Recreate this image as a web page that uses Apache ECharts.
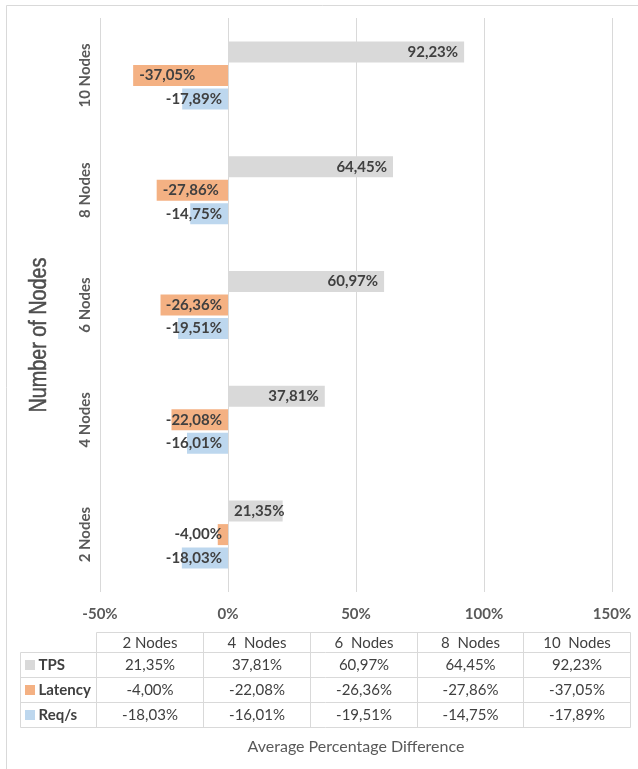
<!DOCTYPE html>
<html>
<head>
<meta charset="utf-8">
<script src="https://cdn.jsdelivr.net/npm/echarts@6/dist/echarts.min.js"></script>
<style>
  html, body { margin: 0; padding: 0; background: #ffffff; }
  #chart { width: 638px; height: 769px; }
</style>
</head>
<body>
<div id="chart"></div>
<script>
// Categories (bottom to top on the value chart) and table headers
const categories = ['2 Nodes', '4 Nodes', '6 Nodes', '8 Nodes', '10 Nodes'];
const tableHeaders = ['2 Nodes', '4  Nodes', '6  Nodes', '8  Nodes', '10  Nodes'];

// Average percentage difference per metric
const seriesNames = ['TPS', 'Latency', 'Req/s'];
const tps = [21.35, 37.81, 60.97, 64.45, 92.23];
const latency = [-4.00, -22.08, -26.36, -27.86, -37.05];
const reqs = [-18.03, -16.01, -19.51, -14.75, -17.89];

// Value axis ticks (percent)
const xTicks = [-50, 0, 50, 100, 150];

const colors = ['#d9d9d9', '#f4b183', '#bdd7ee'];
const seriesValues = [tps, latency, reqs];

const FONT = 'Lato, "Open Sans", sans-serif';
const LABEL_DIST = 6;
const fmt = v => v.toFixed(2).replace('.', ',') + '%';

const chart = echarts.init(document.getElementById('chart'), null, { renderer: 'canvas' });

// ---- data table under the plot -------------------------------------------
const colEdges = [96.5, 203.5, 310.5, 417.5, 523.5, 630.5];
const headTop = 632.5;
const rowEdges = [652.5, 677.5, 702.5, 727.5];
const legendLeft = 20.5;
const lineStyle = { stroke: '#d9d9d9', lineWidth: 1 };

function tableGraphics() {
  const els = [];
  // outer chart frame
  els.push({ type: 'rect', shape: { x: 6.5, y: 5.5, width: 700, height: 800 },
             style: { fill: null, stroke: '#d9d9d9', lineWidth: 1 }, silent: true });
  // horizontal rules
  els.push({ type: 'line', shape: { x1: colEdges[0], y1: headTop, x2: colEdges[5], y2: headTop }, style: lineStyle });
  rowEdges.forEach(y => els.push({ type: 'line',
    shape: { x1: legendLeft, y1: y, x2: colEdges[5], y2: y }, style: lineStyle }));
  // vertical rules
  els.push({ type: 'line', shape: { x1: legendLeft, y1: rowEdges[0], x2: legendLeft, y2: rowEdges[3] }, style: lineStyle });
  colEdges.forEach(x => els.push({ type: 'line',
    shape: { x1: x, y1: headTop, x2: x, y2: rowEdges[3] }, style: lineStyle }));
  // header cells
  tableHeaders.forEach((h, i) => els.push({ type: 'text',
    x: (colEdges[i] + colEdges[i + 1]) / 2, y: (headTop + rowEdges[0]) / 2 + 0.5,
    style: { text: h, font: '15px ' + FONT, fill: '#404040', textAlign: 'center', textVerticalAlign: 'middle' } }));
  // rows: legend key + values
  seriesNames.forEach((name, r) => {
    const cy = (rowEdges[r] + rowEdges[r + 1]) / 2;
    els.push({ type: 'rect', shape: { x: 25, y: cy - 5, width: 10, height: 10 },
               style: { fill: colors[r] } });
    els.push({ type: 'text', x: 38.5, y: cy,
      style: { text: name, font: 'bold 15px ' + FONT, fill: '#404040', textAlign: 'left', textVerticalAlign: 'middle' } });
    seriesValues[r].forEach((v, i) => els.push({ type: 'text',
      x: (colEdges[i] + colEdges[i + 1]) / 2, y: cy,
      style: { text: fmt(v), font: '15px ' + FONT, fill: '#404040', textAlign: 'center', textVerticalAlign: 'middle' } }));
  });
  // vertical axis title (set in a condensed width)
  els.push({ type: 'text', x: 40, y: 335, rotation: Math.PI / 2, scaleX: 0.86,
    style: { text: 'Number of Nodes', font: '23px "Liberation Sans", Arial, sans-serif',
             fill: '#4d4d4d', stroke: '#4d4d4d', lineWidth: 0.5,
             textAlign: 'center', textVerticalAlign: 'middle' } });
  return els;
}

function buildSeries(positions) {
  return seriesNames.map((name, s) => ({
    name: name,
    type: 'bar',
    barWidth: 21,
    barGap: '12%',
    itemStyle: { color: colors[s] },
    label: {
      show: true,
      distance: LABEL_DIST,
      formatter: p => fmt(p.value),
      fontFamily: FONT, fontSize: 15, fontWeight: 'bold', color: '#404040'
    },
    data: seriesValues[s].map((v, i) => ({
      value: v,
      label: { position: positions ? positions[s][i] : 'insideRight' }
    }))
  }));
}

chart.setOption({
  animation: false,
  backgroundColor: '#ffffff',
  grid: { left: 100, right: 26, top: 18, bottom: 177, outerBoundsMode: 'none' },
  xAxis: {
    type: 'value',
    min: xTicks[0], max: xTicks[xTicks.length - 1], interval: xTicks[1] - xTicks[0],
    axisLine: { show: false }, axisTick: { show: false },
    splitLine: { show: true, lineStyle: { color: '#d9d9d9', width: 1 } },
    axisLabel: { formatter: v => v + '%', fontFamily: FONT, fontSize: 15, fontWeight: 'bold',
                 color: '#595959', margin: 15 },
    name: 'Average Percentage Difference',
    nameLocation: 'middle', nameGap: 147,
    nameTextStyle: { fontFamily: FONT, fontSize: 16, color: '#595959' }
  },
  yAxis: {
    type: 'category',
    data: categories,
    axisLine: { show: false }, axisTick: { show: false },
    axisLabel: { rotate: 90, margin: 7, fontFamily: FONT, fontSize: 15, fontWeight: 'bold', color: '#595959' }
  },
  graphic: { elements: tableGraphics() },
  series: buildSeries(null)
});

// Data labels sit at the bar's outer end when they fit inside the bar,
// otherwise they are kept inside next to the zero line.
const ctx = document.createElement('canvas').getContext('2d');
ctx.font = 'bold 15px ' + FONT;
const zeroPx = chart.convertToPixel({ xAxisIndex: 0 }, 0);
const positions = seriesValues.map(vals => vals.map(v => {
  const barPx = Math.abs(chart.convertToPixel({ xAxisIndex: 0 }, v) - zeroPx);
  const fits = barPx >= ctx.measureText(fmt(v)).width + 2 * LABEL_DIST;
  if (v >= 0) return fits ? 'insideRight' : 'insideLeft';
  return fits ? 'insideLeft' : 'insideRight';
}));
chart.setOption({ series: buildSeries(positions) });
</script>
</body>
</html>
